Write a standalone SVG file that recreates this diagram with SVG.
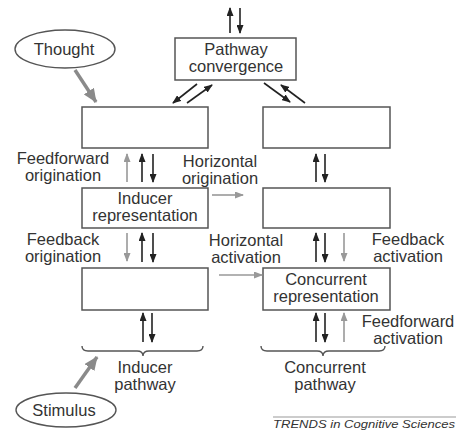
<svg xmlns="http://www.w3.org/2000/svg" width="458" height="430" viewBox="0 0 458 430">
<style>
.box{fill:#fff;stroke:#555;stroke-width:1.5}
.t{font-family:"Liberation Sans",Arial,sans-serif;font-size:16.5px;fill:#333;text-anchor:middle}
.k{stroke:#222;stroke-width:1.6;fill:none}
.g{stroke:#999;stroke-width:1.6;fill:none}
.G{stroke:#8a8a8a;stroke-width:3.5;fill:none}
.br{stroke:#555;stroke-width:1.4;fill:none}
</style>
<defs>
<marker id="ak" markerUnits="userSpaceOnUse" markerWidth="9" markerHeight="7" refX="8" refY="3.5" orient="auto"><path d="M0,0 L9,3.5 L0,7 z" fill="#222"/></marker>
<marker id="ag" markerUnits="userSpaceOnUse" markerWidth="9" markerHeight="7" refX="8" refY="3.5" orient="auto"><path d="M0,0 L9,3.5 L0,7 z" fill="#999"/></marker>
<marker id="aG" markerUnits="userSpaceOnUse" markerWidth="14" markerHeight="12" refX="13" refY="6" orient="auto"><path d="M0,0 L14,6 L0,12 z" fill="#8a8a8a"/></marker>
</defs>
<rect width="458" height="430" fill="#fff"/>

<g id="thought"><ellipse cx="65" cy="49" rx="50" ry="19" fill="#fff" stroke="#555" stroke-width="1.4"/><text class="t" x="64" y="55">Thought</text></g>
<g id="stimulus"><ellipse cx="66" cy="410" rx="50" ry="17" fill="#fff" stroke="#555" stroke-width="1.4"/><text class="t" x="64" y="416">Stimulus</text></g>

<g id="pathway-convergence"><rect class="box" x="175" y="38" width="121" height="42"/><text class="t" x="236" y="55">Pathway</text><text class="t" x="236" y="72">convergence</text></g>
<g id="inducer-top"><rect class="box" x="82" y="107" width="126" height="41"/></g>
<g id="concurrent-top"><rect class="box" x="263" y="107" width="127" height="41"/></g>
<g id="inducer-representation"><rect class="box" x="82" y="188" width="126" height="40"/><text class="t" x="145" y="204">Inducer</text><text class="t" x="145" y="221">representation</text></g>
<g id="concurrent-middle"><rect class="box" x="263" y="188" width="127" height="40"/></g>
<g id="inducer-bottom"><rect class="box" x="82" y="268" width="126" height="42"/></g>
<g id="concurrent-representation"><rect class="box" x="263" y="268" width="127" height="42"/><text class="t" x="326" y="285">Concurrent</text><text class="t" x="326" y="302">representation</text></g>

<g id="labels">
<text class="t" x="63" y="164">Feedforward</text><text class="t" x="63" y="181">origination</text>
<text class="t" x="220" y="167">Horizontal</text><text class="t" x="220" y="184">origination</text>
<text class="t" x="63" y="245">Feedback</text><text class="t" x="63" y="262">origination</text>
<text class="t" x="246" y="246">Horizontal</text><text class="t" x="246" y="263">activation</text>
<text class="t" x="408" y="245">Feedback</text><text class="t" x="408" y="262">activation</text>
<text class="t" x="408" y="327">Feedforward</text><text class="t" x="408" y="344">activation</text>
<text class="t" x="145" y="373">Inducer</text><text class="t" x="145" y="390">pathway</text>
<text class="t" x="325" y="373">Concurrent</text><text class="t" x="325" y="390">pathway</text>
<text x="455" y="428" font-family="'Liberation Sans',Arial,sans-serif" font-size="11.5" font-style="italic" fill="#333" text-anchor="end" textLength="182" lengthAdjust="spacingAndGlyphs">TRENDS in Cognitive Sciences</text>
</g>

<g id="connectors">
<path class="k" d="M230,33 L230,8" marker-end="url(#ak)"/>
<path class="k" d="M240,8 L240,33" marker-end="url(#ak)"/>
<path class="k" d="M197,84 L173,103" marker-end="url(#ak)"/>
<path class="k" d="M187,103 L212,85" marker-end="url(#ak)"/>
<path class="k" d="M264,83 L290,102" marker-end="url(#ak)"/>
<path class="k" d="M305,103 L281,85" marker-end="url(#ak)"/>
<path class="G" d="M75,70 L96,102" marker-end="url(#aG)"/>
<path class="G" d="M75,388 L97,357" marker-end="url(#aG)"/>

<path class="g" d="M127,182 L127,154" marker-end="url(#ag)"/>
<path class="k" d="M142,182 L142,154" marker-end="url(#ak)"/>
<path class="k" d="M153,154 L153,182" marker-end="url(#ak)"/>
<path class="k" d="M316,182 L316,154" marker-end="url(#ak)"/>
<path class="k" d="M325,154 L325,182" marker-end="url(#ak)"/>
<path class="g" d="M212,195 L243,195" marker-end="url(#ag)"/>

<path class="g" d="M127,233 L127,261" marker-end="url(#ag)"/>
<path class="k" d="M142,262 L142,233" marker-end="url(#ak)"/>
<path class="k" d="M153,233 L153,262" marker-end="url(#ak)"/>
<path class="k" d="M316,262 L316,233" marker-end="url(#ak)"/>
<path class="k" d="M325,233 L325,262" marker-end="url(#ak)"/>
<path class="g" d="M344,233 L344,261" marker-end="url(#ag)"/>
<path class="g" d="M219,275 L262,275" marker-end="url(#ag)"/>

<path class="k" d="M143,342 L143,313" marker-end="url(#ak)"/>
<path class="k" d="M152,313 L152,342" marker-end="url(#ak)"/>
<path class="k" d="M316,342 L316,313" marker-end="url(#ak)"/>
<path class="k" d="M325,313 L325,342" marker-end="url(#ak)"/>
<path class="g" d="M344,342 L344,313" marker-end="url(#ag)"/>

<path class="br" d="M82,346 Q82,351 88,351 L137,351 Q143,351 143,356 Q143,351 149,351 L197,351 Q203,351 203,346"/>
<path class="br" d="M261,346 Q261,351 267,351 L317,351 Q323,351 323,356 Q323,351 329,351 L379,351 Q385,351 385,346"/>
<path d="M273,417 L456,417" stroke="#999" stroke-width="1"/>
</g>
</svg>
